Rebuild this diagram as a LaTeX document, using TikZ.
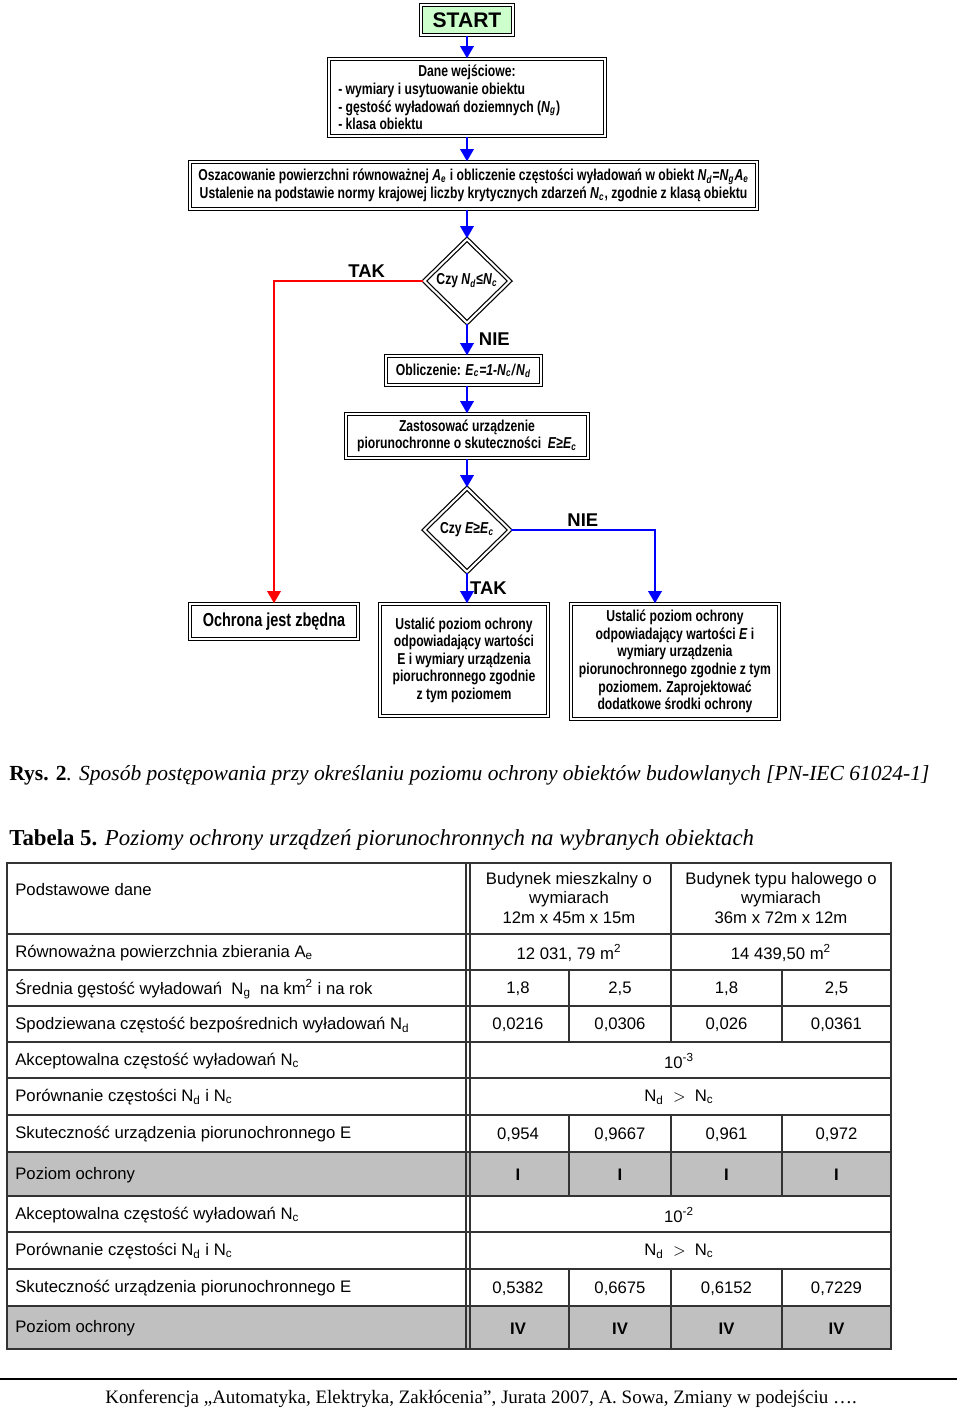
\documentclass[tikz,border=0pt]{standalone}
\usepackage{fontspec}
\setmainfont{Liberation Serif}
\setsansfont{Liberation Sans}
\newfontfamily\chartfont[FakeStretch=0.77]{Liberation Sans}
\usetikzlibrary{arrows.meta,positioning,shapes.geometric}
\definecolor{FlowBlue}{RGB}{0,0,255}
\definecolor{FlowRed}{RGB}{255,0,0}
\definecolor{StartGreen}{RGB}{204,255,204}
\definecolor{RowGray}{RGB}{192,192,192}
\newcommand{\ivar}[2]{\textit{#1}\textsubscript{\textit{#2}}}

\begin{document}
\begin{tikzpicture}[x=0.02cm, y=-0.02cm, >={Triangle[width=7.5pt,length=7pt]}]
    \tikzstyle{box}=[draw, double, double distance=1.2pt, line width=0.7pt, fill=white, align=center, inner sep=0pt, font=\chartfont\bfseries\fontsize{9}{10}\selectfont]
    \tikzstyle{decision}=[box, diamond, aspect=1, minimum width=1.72cm, minimum height=1.68cm]
    \tikzstyle{lbl}=[font=\sffamily\bfseries\fontsize{10.5}{12}\selectfont, text=black, inner sep=1pt]
    \tikzstyle{flow}=[->, line width=1.6pt, FlowBlue]
    \tikzstyle{tabline}=[line width=0.6pt, black!80]
    \tikzstyle{cell}=[font=\sffamily\fontsize{9.5}{11}\selectfont, inner sep=0pt]
    \useasboundingbox (0,0) rectangle (960,1411);

    % flowchart
    \node[box, fill=StartGreen, minimum width=1.84cm, minimum height=0.6cm, font=\sffamily\bfseries\fontsize{12}{14}\selectfont] (start) at (467,20) {START};
    \node[box, minimum width=5.52cm, minimum height=1.54cm, text width=5.15cm, align=flush left] (data) at (467,97.5)
        {\makebox[\linewidth]{Dane wejściowe:}\\- wymiary i usytuowanie obiektu\\- gęstość wyładowań doziemnych (\ivar{N}{g})\\- klasa obiektu};
    \node[box, minimum width=11.34cm, minimum height=0.94cm] (estim) at (473.5,185.5)
        {Oszacowanie powierzchni równoważnej \ivar{A}{e} i obliczenie częstości wyładowań w obiekt \ivar{N}{d}=\ivar{N}{g}\ivar{A}{e}\\
         Ustalenie na podstawie normy krajowej liczby krytycznych zdarzeń \ivar{N}{c}, zgodnie z klasą obiektu};
    \node[decision] (cond1) at (467,281) {Czy \ivar{N}{d}≤\ivar{N}{c}};
    \node[box, minimum width=3.1cm, minimum height=0.58cm] (calc) at (463.5,370.5) {Obliczenie: \ivar{E}{c}\textit{=1-}\ivar{N}{c}\textit{/}\ivar{N}{d}};
    \node[box, minimum width=4.84cm, minimum height=0.88cm] (apply) at (467,436)
        {Zastosować urządzenie\\piorunochronne o skuteczności~ \textit{E}≥\ivar{E}{c}};
    \node[decision] (cond2) at (467,530) {Czy \textit{E}≥\ivar{E}{c}};
    \node[box, minimum width=3.36cm, minimum height=0.7cm, font=\chartfont\bfseries\fontsize{10.7}{12}\selectfont] (none) at (274,621.5) {Ochrona jest zbędna};
    \node[box, minimum width=3.36cm, minimum height=2.24cm] (level) at (464,660)
        {Ustalić poziom ochrony\\odpowiadający wartości\\E i wymiary urządzenia\\pioruchronnego zgodnie\\z tym poziomem};
    \node[box, minimum width=4.16cm, minimum height=2.3cm] (extra) at (675,661.5)
        {Ustalić poziom ochrony\\odpowiadający wartości \textit{E} i\\wymiary urządzenia\\piorunochronnego zgodnie z tym\\poziomem. Zaprojektować\\dodatkowe środki ochrony};

    \draw[flow] (start.south) -- (data.north);
    \draw[flow] (data.south) -- (data.south |- estim.north);
    \draw[flow] (cond1 |- estim.south) -- (cond1.north);
    \draw[flow] (cond1.south) -- node[lbl, right=5pt] {NIE} (cond1.south |- calc.north);
    \draw[flow] (apply |- calc.south) -- (apply.north);
    \draw[flow] (apply.south) -- (cond2.north);
    \draw[flow] (cond2.south) -- node[lbl, right] {TAK} (cond2.south |- level.north);
    \draw[flow] (cond2.east) -| node[lbl, above, pos=0.25] {NIE} ([xshift=-0.4cm]extra.north);
    \draw[flow, FlowRed] (cond1.west) -| node[lbl, above, pos=0.19] {TAK} (none.north);

    % captions
    \node[anchor=base west, inner sep=0pt, font=\rmfamily\fontsize{12.25}{15}\selectfont] (fig) at (9,780)
        {\textbf{Rys. 2}\textit{. Sposób postępowania przy określaniu poziomu ochrony obiektów budowlanych [PN-IEC 61024-1]}};
    \node[anchor=base west, inner sep=0pt, font=\rmfamily\fontsize{13}{15}\selectfont] (tab) at (9,845)
        {\textbf{Tabela 5.} \textit{Poziomy ochrony urządzeń piorunochronnych na wybranych obiektach}};

    % table
    \fill[RowGray] (7,1152) rectangle (891,1196) (7,1306) rectangle (891,1349);
    \foreach \y in {934,970,1006,1042,1078,1115,1152,1196,1232,1269,1306}
        \draw[tabline] (7,\y) -- (891,\y);
    \draw[tabline, line width=1pt] (7,863) rectangle (891,1349);
    \draw[tabline] (466,863) -- (466,1349) (470,863) -- (470,1349);
    \draw[tabline] (671,863) -- (671,1042) (671,1115) -- (671,1196) (671,1269) -- (671,1349);
    \foreach \x in {569,782}
        \draw[tabline] (\x,970) -- (\x,1042) (\x,1115) -- (\x,1196) (\x,1269) -- (\x,1349);

    \node[cell, anchor=west] (head) at (15,890) {Podstawowe dane};
    \node[cell, align=center] (house) at (569,898) {Budynek mieszkalny o\\wymiarach\\12m x 45m x 15m};
    \node[cell, align=center] (hall) at (781,898) {Budynek typu halowego o\\wymiarach\\36m x 72m x 12m};
    \foreach \y/\t in {953/{Równoważna powierzchnia zbierania A\textsubscript{e}},
                       989/{Średnia gęstość wyładowań~ N\textsubscript{g}~ na km\textsuperscript{2} i na rok},
                       1025/{Spodziewana częstość bezpośrednich wyładowań N\textsubscript{d}},
                       1061/{Akceptowalna częstość wyładowań N\textsubscript{c}},
                       1097.5/{Porównanie częstości N\textsubscript{d} i N\textsubscript{c}},
                       1134.5/{Skuteczność urządzenia piorunochronnego E},
                       1175/{Poziom ochrony},
                       1215/{Akceptowalna częstość wyładowań N\textsubscript{c}},
                       1251.5/{Porównanie częstości N\textsubscript{d} i N\textsubscript{c}},
                       1288.5/{Skuteczność urządzenia piorunochronnego E},
                       1328.5/{Poziom ochrony}}
        \node[cell, anchor=west] at (15,\y) {\t};

    \node[cell] (areaA) at (569,953) {12 031, 79 m\textsuperscript{2}};
    \node[cell] (areaB) at (781,953) {14 439,50 m\textsuperscript{2}};
    \foreach \x/\a/\b/\c/\d/\e/\f in {518/{1,8}/{0,0216}/{0,954}/I/{0,5382}/IV,
                                      620/{2,5}/{0,0306}/{0,9667}/I/{0,6675}/IV,
                                      726.5/{1,8}/{0,026}/{0,961}/I/{0,6152}/IV,
                                      836.5/{2,5}/{0,0361}/{0,972}/I/{0,7229}/IV} {
        \node[cell] at (\x,989) {\a};
        \node[cell] at (\x,1025) {\b};
        \node[cell] at (\x,1134.5) {\c};
        \node[cell, font=\sffamily\bfseries\fontsize{9.5}{11}\selectfont] at (\x,1175) {\d};
        \node[cell] at (\x,1288.5) {\e};
        \node[cell, font=\sffamily\bfseries\fontsize{9.5}{11}\selectfont] at (\x,1328.5) {\f};
    }
    \node[cell] (ncA) at (679,1061) {10\textsuperscript{-3}};
    \node[cell] (cmpA) at (679,1097.5) {N\textsubscript{d}~ $>$ ~N\textsubscript{c}};
    \node[cell] (ncB) at (679,1215) {10\textsuperscript{-2}};
    \node[cell] (cmpB) at (679,1251.5) {N\textsubscript{d}~ $>$ ~N\textsubscript{c}};

    % footer
    \draw[line width=0.8pt] (0,1379) -- (957,1379);
    \node[font=\rmfamily\fontsize{10.8}{13}\selectfont, inner sep=0pt] (foot) at (481,1399)
        {Konferencja „Automatyka, Elektryka, Zakłócenia”, Jurata 2007, A. Sowa, Zmiany w podejściu ….};
\end{tikzpicture}
\end{document}
